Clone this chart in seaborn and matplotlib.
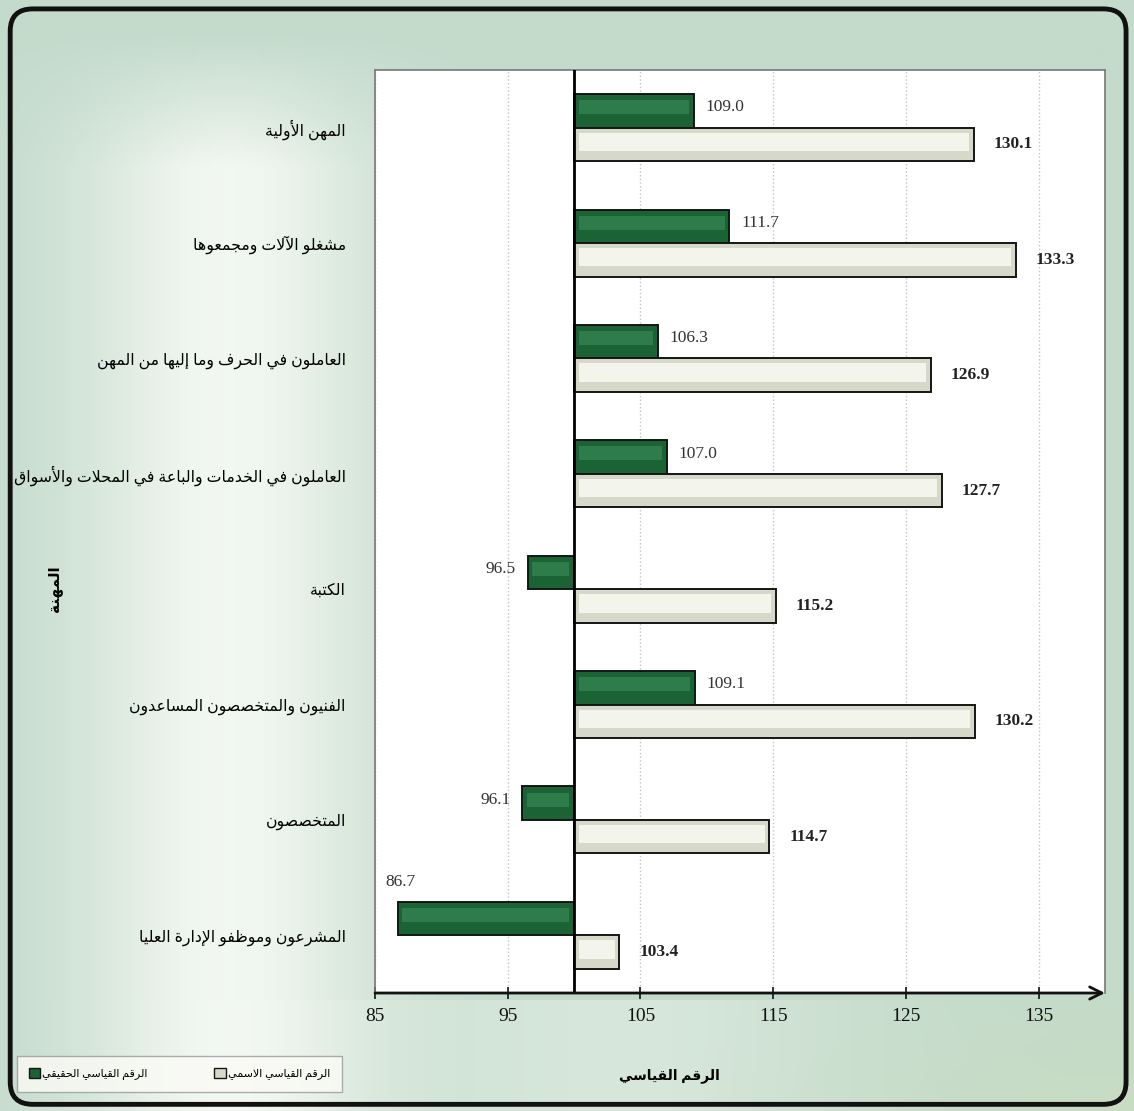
import numpy as np
import pandas as pd
import seaborn as sns
import matplotlib.pyplot as plt
from matplotlib.patches import Patch, FancyBboxPatch, Rectangle

# data (top to bottom as drawn)
occupations = [
    "المهن الأولية",
    "مشغلو الآلات ومجمعوها",
    "العاملون في الحرف وما إليها من المهن",
    "العاملون في الخدمات والباعة في المحلات والأسواق",
    "الكتبة",
    "الفنيون والمتخصصون المساعدون",
    "المتخصصون",
    "المشرعون وموظفو الإدارة العليا",
]
real_index = [109.0, 111.7, 106.3, 107.0, 96.5, 109.1, 96.1, 86.7]
nominal_index = [130.1, 133.3, 126.9, 127.7, 115.2, 130.2, 114.7, 103.4]
series_names = ["الرقم القياسي الحقيقي", "الرقم القياسي الاسمي"]
x_ticks = [85, 95, 105, 115, 125, 135]
base_value = 100

# --- minimal arabic shaping (matplotlib has no shaping / bidi) ---
# char -> (first presentation form, number of forms)
ARABIC = {
    "ء": (0xFE80, 1), "آ": (0xFE81, 2), "أ": (0xFE83, 2), "ؤ": (0xFE85, 2),
    "إ": (0xFE87, 2), "ئ": (0xFE89, 4), "ا": (0xFE8D, 2), "ب": (0xFE8F, 4),
    "ة": (0xFE93, 2), "ت": (0xFE95, 4), "ث": (0xFE99, 4), "ج": (0xFE9D, 4),
    "ح": (0xFEA1, 4), "خ": (0xFEA5, 4), "د": (0xFEA9, 2), "ذ": (0xFEAB, 2),
    "ر": (0xFEAD, 2), "ز": (0xFEAF, 2), "س": (0xFEB1, 4), "ش": (0xFEB5, 4),
    "ص": (0xFEB9, 4), "ض": (0xFEBD, 4), "ط": (0xFEC1, 4), "ظ": (0xFEC5, 4),
    "ع": (0xFEC9, 4), "غ": (0xFECD, 4), "ف": (0xFED1, 4), "ق": (0xFED5, 4),
    "ك": (0xFED9, 4), "ل": (0xFEDD, 4), "م": (0xFEE1, 4), "ن": (0xFEE5, 4),
    "ه": (0xFEE9, 4), "و": (0xFEED, 2), "ى": (0xFEEF, 2), "ي": (0xFEF1, 4),
}
LAM_ALEF = {"آ": 0xFEF5, "أ": 0xFEF7, "إ": 0xFEF9, "ا": 0xFEFB}


def shape(text):
    tokens = []
    i = 0
    while i < len(text):
        if text[i] == "ل" and i + 1 < len(text) and text[i + 1] in LAM_ALEF:
            tokens.append(("LA", LAM_ALEF[text[i + 1]]))
            i += 2
        else:
            tokens.append((text[i], None))
            i += 1
    out = []
    for k, (c, lig) in enumerate(tokens):
        prev = tokens[k - 1][0] if k > 0 else None
        nxt = tokens[k + 1][0] if k + 1 < len(tokens) else None
        prev_join = prev in ARABIC and ARABIC[prev][1] == 4
        if c == "LA":
            out.append(chr(lig + (1 if prev_join else 0)))
            continue
        if c not in ARABIC:
            out.append(c)
            continue
        base, n = ARABIC[c]
        next_join = nxt == "LA" or (nxt in ARABIC and ARABIC[nxt][1] > 1)
        if n == 1:
            form = 0
        elif n == 2:
            form = 1 if prev_join else 0
        else:
            if prev_join and next_join:
                form = 3
            elif prev_join:
                form = 1
            elif next_join:
                form = 2
            else:
                form = 0
        out.append(chr(base + form))
    return "".join(reversed(out))


plt.rcParams["font.family"] = ["Liberation Serif", "DejaVu Sans"]

labels = [shape(o) for o in occupations]
df = pd.DataFrame({
    "occupation": labels * 2,
    "series": [series_names[0]] * len(labels) + [series_names[1]] * len(labels),
    "value": real_index + nominal_index,
})

green = "#1b6234"
light = "#d6d8c9"

fig = plt.figure(figsize=(11.34, 11.11), dpi=100)

# background gradient
yy, xx = np.mgrid[0:1:300j, 0:1:300j]
green_bg = np.array([196, 219, 204]) / 255
white = np.array([250, 252, 248]) / 255
w = 0.85 * np.exp(-((xx - 0.2) / 0.13) ** 2) * np.clip((yy - 0.03) / 0.12, 0, 1)
w = np.clip(w + 0.35 * np.exp(-((xx - 0.55) / 0.2) ** 2) * (yy > 0.9), 0, 1)
img = green_bg[None, None, :] * (1 - w[..., None]) + white[None, None, :] * w[..., None]
# yellowish tint lower right
tint = np.clip((xx - 0.6) / 0.4, 0, 1) * np.clip((yy - 0.85) / 0.15, 0, 1)
img = img * (1 - 0.4 * tint[..., None]) + np.array([205, 222, 180]) / 255 * 0.4 * tint[..., None]
bg = fig.add_axes([0, 0, 1, 1], zorder=-10)
bg.imshow(img, extent=[0, 1, 0, 1], aspect="auto", origin="upper")
bg.set_xlim(0, 1)
bg.set_ylim(0, 1)
bg.axis("off")
bg.add_patch(FancyBboxPatch((0.009, 0.006), 0.984, 0.986,
                            boxstyle="round,pad=0,rounding_size=0.02",
                            fill=False, ec="#111111", lw=3.5, transform=bg.transAxes))

ax = fig.add_axes([0.3307, 0.1062, 0.6437, 0.8308])
ax.set_facecolor("white")
sns.barplot(data=df, y="occupation", x="value", hue="series", orient="h",
            palette=[green, light], width=0.58, saturation=1, legend=False,
            edgecolor="#151515", linewidth=1.4, ax=ax, zorder=2)

# bars start from the base value 100, plus a light bevel strip inside each bar
shine = [("#2f7c4b", 0.18, 0.42), ("#f3f4ec", 0.15, 0.55)]
for cont, (sc, off, frac) in zip(ax.containers, shine):
    for p in cont.patches:
        v = p.get_width()
        p.set_x(base_value)
        p.set_width(v - base_value)
        x0, x1 = sorted([base_value, v])
        inset = min(0.35, (x1 - x0) / 4)
        h = p.get_height()
        ax.add_patch(Rectangle((x0 + inset, p.get_y() + off * h), x1 - x0 - 2 * inset,
                               frac * h, facecolor=sc, edgecolor="none", zorder=2.5))

ax.set_xlim(85, 140)
ax.set_xticks(x_ticks)
ax.set_xticklabels([str(t) for t in x_ticks], fontsize=14)
ax.tick_params(axis="x", direction="inout", length=8, width=1.2, pad=7, colors="#111111")
ax.set_yticks(range(len(labels)))
ax.set_yticklabels(labels, fontsize=11.3)
ax.tick_params(axis="y", length=0, pad=21)
ax.set_xlabel("")
ax.set_ylabel("")
ax.grid(axis="x", linestyle=":", color="#c4c4c4", lw=1)
ax.set_axisbelow(True)
for s in ["left", "top", "right"]:
    ax.spines[s].set_color("#777777")
    ax.spines[s].set_linewidth(1.2)
ax.spines["bottom"].set_visible(False)
ax.axvline(base_value, color="black", lw=2, zorder=3)
ax.annotate("", xy=(1.0, 0), xytext=(0, 0), xycoords="axes fraction",
            arrowprops=dict(arrowstyle="->", color="#111111", lw=2,
                            mutation_scale=22, shrinkA=0, shrinkB=0),
            annotation_clip=False)

# value labels
real_bars, nom_bars = ax.containers[0], ax.containers[1]
for p, v in zip(real_bars.patches, real_index):
    yc = p.get_y() + p.get_height() / 2 - 0.03
    if v >= base_value:
        ax.text(v + 0.9, yc, f"{v:.1f}", ha="left", va="center", fontsize=12.5, color="#333333")
    elif v - 85 > 5:
        ax.text(v - 0.9, yc, f"{v:.1f}", ha="right", va="center", fontsize=12.5, color="#333333")
    else:
        ax.text(v - 0.9, p.get_y() - 0.1, f"{v:.1f}", ha="left", va="bottom", fontsize=12.5, color="#333333")
for p, v in zip(nom_bars.patches, nominal_index):
    yc = p.get_y() + p.get_height() / 2
    ax.text(v + 1.5, yc, f"{v:.1f}", ha="left", va="center", fontsize=12.5,
            fontweight="bold", color="#222222")

# axis titles
fig.text(0.048, 0.47, shape("المهنة"), rotation=90, ha="center", va="center",
         fontsize=11, fontweight="bold")
fig.text(0.59, 0.032, shape("الرقم القياسي"), ha="center", va="center",
         fontsize=10, fontweight="bold")

# legend
handles = [Patch(facecolor=green, edgecolor="#151515", label=shape(series_names[0])),
           Patch(facecolor=light, edgecolor="#151515", label=shape(series_names[1]))]
leg = fig.legend(handles=handles, loc="lower left", bbox_to_anchor=(0.01, 0.012),
                 ncol=2, fontsize=8, frameon=True, fancybox=False, edgecolor="#999999",
                 handlelength=1.0, handleheight=1.0, columnspacing=6, borderpad=1.1,
                 handletextpad=0.2)
leg.get_frame().set_facecolor("#fbfbf6")

fig.savefig("out.png", dpi=100)
